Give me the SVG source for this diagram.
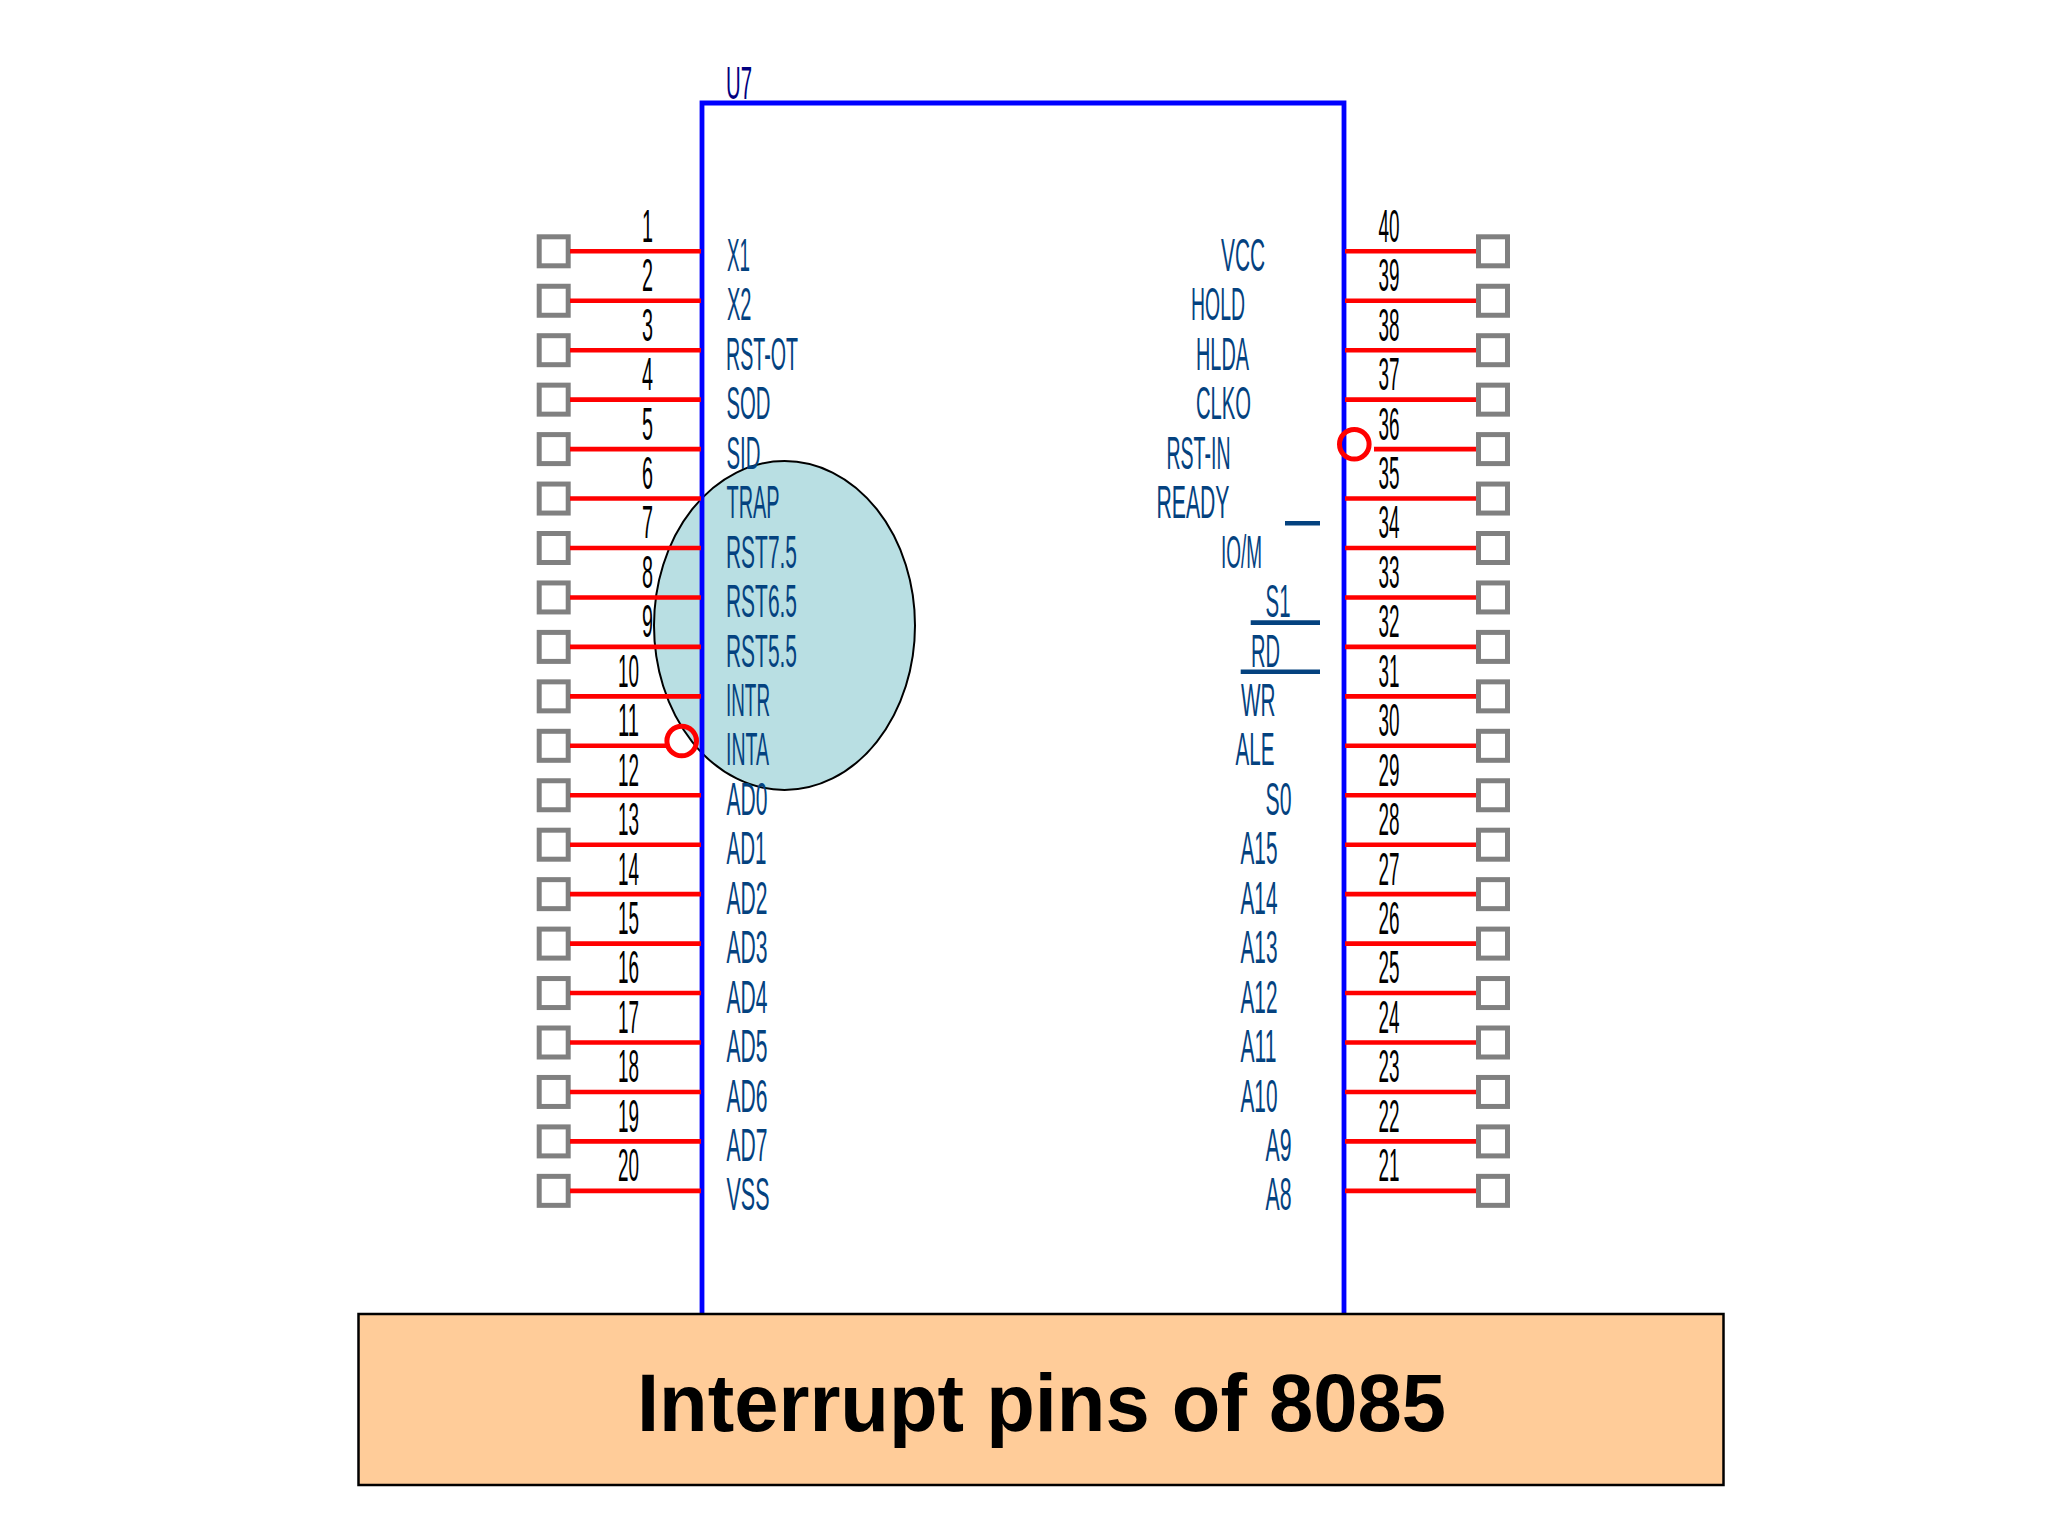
<svg xmlns="http://www.w3.org/2000/svg" width="2048" height="1536" viewBox="0 0 2048 1536">
<style>
text{font-family:"Liberation Sans",Arial,sans-serif;font-size:45.5px}
.pad{fill:#fff;stroke:#808080;stroke-width:5}
.n{fill:#000}
.l{fill:#04427f}
.wire{stroke:#f00;stroke-width:4.6;fill:none}
.bar{stroke:#04427f;stroke-width:4.6;fill:none}
.mark{stroke:#f00;stroke-width:5;fill:none}
</style>
<rect width="2048" height="1536" fill="#fff"/>
<g id="highlight"><ellipse cx="784.5" cy="625.5" rx="130.5" ry="164.5" fill="#b9dfe3" stroke="#000" stroke-width="2"/></g>
<g id="chip">
<path d="M702 1313V103H1344V1313" fill="none" stroke="#00f" stroke-width="4.8"/>
<text x="726" y="98.5" textLength="26" lengthAdjust="spacingAndGlyphs" fill="#000080">U7</text>
</g>
<g id="pin-1" transform="translate(0,251.3)"><rect class="pad" x="539.2" y="-14.5" width="29" height="29"/><text class="n" x="642" y="-9.6" textLength="11" lengthAdjust="spacingAndGlyphs">1</text><text class="l" x="727" y="19.6" textLength="23" lengthAdjust="spacingAndGlyphs">X1</text></g>
<g id="pin-2" transform="translate(0,300.75)"><rect class="pad" x="539.2" y="-14.5" width="29" height="29"/><text class="n" x="642" y="-9.6" textLength="11" lengthAdjust="spacingAndGlyphs">2</text><text class="l" x="727" y="19.6" textLength="24.5" lengthAdjust="spacingAndGlyphs">X2</text></g>
<g id="pin-3" transform="translate(0,350.2)"><rect class="pad" x="539.2" y="-14.5" width="29" height="29"/><text class="n" x="642" y="-9.6" textLength="11" lengthAdjust="spacingAndGlyphs">3</text><text class="l" x="726" y="19.6" textLength="72" lengthAdjust="spacingAndGlyphs">RST-OT</text></g>
<g id="pin-4" transform="translate(0,399.65)"><rect class="pad" x="539.2" y="-14.5" width="29" height="29"/><text class="n" x="642" y="-9.6" textLength="11" lengthAdjust="spacingAndGlyphs">4</text><text class="l" x="726.5" y="19.6" textLength="44" lengthAdjust="spacingAndGlyphs">SOD</text></g>
<g id="pin-5" transform="translate(0,449.1)"><rect class="pad" x="539.2" y="-14.5" width="29" height="29"/><text class="n" x="642" y="-9.6" textLength="11" lengthAdjust="spacingAndGlyphs">5</text><text class="l" x="726.5" y="19.6" textLength="34" lengthAdjust="spacingAndGlyphs">SID</text></g>
<g id="pin-6" transform="translate(0,498.55)"><rect class="pad" x="539.2" y="-14.5" width="29" height="29"/><text class="n" x="642" y="-9.6" textLength="11" lengthAdjust="spacingAndGlyphs">6</text><text class="l" x="726.5" y="19.6" textLength="53" lengthAdjust="spacingAndGlyphs">TRAP</text></g>
<g id="pin-7" transform="translate(0,548)"><rect class="pad" x="539.2" y="-14.5" width="29" height="29"/><text class="n" x="642" y="-9.6" textLength="11" lengthAdjust="spacingAndGlyphs">7</text><text class="l" x="726" y="19.6" textLength="71" lengthAdjust="spacingAndGlyphs">RST7.5</text></g>
<g id="pin-8" transform="translate(0,597.45)"><rect class="pad" x="539.2" y="-14.5" width="29" height="29"/><text class="n" x="642" y="-9.6" textLength="11" lengthAdjust="spacingAndGlyphs">8</text><text class="l" x="726" y="19.6" textLength="71" lengthAdjust="spacingAndGlyphs">RST6.5</text></g>
<g id="pin-9" transform="translate(0,646.9)"><rect class="pad" x="539.2" y="-14.5" width="29" height="29"/><text class="n" x="642" y="-9.6" textLength="11" lengthAdjust="spacingAndGlyphs">9</text><text class="l" x="726" y="19.6" textLength="71" lengthAdjust="spacingAndGlyphs">RST5.5</text></g>
<g id="pin-10" transform="translate(0,696.35)"><rect class="pad" x="539.2" y="-14.5" width="29" height="29"/><text class="n" x="618" y="-9.6" textLength="21" lengthAdjust="spacingAndGlyphs">10</text><text class="l" x="726" y="19.6" textLength="44" lengthAdjust="spacingAndGlyphs">INTR</text></g>
<g id="pin-11" transform="translate(0,745.8)"><rect class="pad" x="539.2" y="-14.5" width="29" height="29"/><text class="n" x="618" y="-9.6" textLength="21" lengthAdjust="spacingAndGlyphs">11</text><text class="l" x="726" y="19.6" textLength="43" lengthAdjust="spacingAndGlyphs">INTA</text></g>
<g id="pin-12" transform="translate(0,795.25)"><rect class="pad" x="539.2" y="-14.5" width="29" height="29"/><text class="n" x="618" y="-9.6" textLength="21" lengthAdjust="spacingAndGlyphs">12</text><text class="l" x="726.5" y="19.6" textLength="41" lengthAdjust="spacingAndGlyphs">AD0</text></g>
<g id="pin-13" transform="translate(0,844.7)"><rect class="pad" x="539.2" y="-14.5" width="29" height="29"/><text class="n" x="618" y="-9.6" textLength="21" lengthAdjust="spacingAndGlyphs">13</text><text class="l" x="726.5" y="19.6" textLength="40" lengthAdjust="spacingAndGlyphs">AD1</text></g>
<g id="pin-14" transform="translate(0,894.15)"><rect class="pad" x="539.2" y="-14.5" width="29" height="29"/><text class="n" x="618" y="-9.6" textLength="21" lengthAdjust="spacingAndGlyphs">14</text><text class="l" x="726.5" y="19.6" textLength="41" lengthAdjust="spacingAndGlyphs">AD2</text></g>
<g id="pin-15" transform="translate(0,943.6)"><rect class="pad" x="539.2" y="-14.5" width="29" height="29"/><text class="n" x="618" y="-9.6" textLength="21" lengthAdjust="spacingAndGlyphs">15</text><text class="l" x="726.5" y="19.6" textLength="41" lengthAdjust="spacingAndGlyphs">AD3</text></g>
<g id="pin-16" transform="translate(0,993.05)"><rect class="pad" x="539.2" y="-14.5" width="29" height="29"/><text class="n" x="618" y="-9.6" textLength="21" lengthAdjust="spacingAndGlyphs">16</text><text class="l" x="726.5" y="19.6" textLength="41" lengthAdjust="spacingAndGlyphs">AD4</text></g>
<g id="pin-17" transform="translate(0,1042.5)"><rect class="pad" x="539.2" y="-14.5" width="29" height="29"/><text class="n" x="618" y="-9.6" textLength="21" lengthAdjust="spacingAndGlyphs">17</text><text class="l" x="726.5" y="19.6" textLength="41" lengthAdjust="spacingAndGlyphs">AD5</text></g>
<g id="pin-18" transform="translate(0,1091.95)"><rect class="pad" x="539.2" y="-14.5" width="29" height="29"/><text class="n" x="618" y="-9.6" textLength="21" lengthAdjust="spacingAndGlyphs">18</text><text class="l" x="726.5" y="19.6" textLength="41" lengthAdjust="spacingAndGlyphs">AD6</text></g>
<g id="pin-19" transform="translate(0,1141.4)"><rect class="pad" x="539.2" y="-14.5" width="29" height="29"/><text class="n" x="618" y="-9.6" textLength="21" lengthAdjust="spacingAndGlyphs">19</text><text class="l" x="726.5" y="19.6" textLength="41" lengthAdjust="spacingAndGlyphs">AD7</text></g>
<g id="pin-20" transform="translate(0,1190.85)"><rect class="pad" x="539.2" y="-14.5" width="29" height="29"/><text class="n" x="618" y="-9.6" textLength="21" lengthAdjust="spacingAndGlyphs">20</text><text class="l" x="726.5" y="19.6" textLength="43" lengthAdjust="spacingAndGlyphs">VSS</text></g>
<g id="pin-40" transform="translate(0,251.3)"><rect class="pad" x="1478.5" y="-14.5" width="29" height="29"/><text class="n" x="1378.5" y="-9.6" textLength="21" lengthAdjust="spacingAndGlyphs">40</text><text class="l" x="1221" y="19.6" textLength="44" lengthAdjust="spacingAndGlyphs">VCC</text></g>
<g id="pin-39" transform="translate(0,300.75)"><rect class="pad" x="1478.5" y="-14.5" width="29" height="29"/><text class="n" x="1378.5" y="-9.6" textLength="21" lengthAdjust="spacingAndGlyphs">39</text><text class="l" x="1191" y="19.6" textLength="54" lengthAdjust="spacingAndGlyphs">HOLD</text></g>
<g id="pin-38" transform="translate(0,350.2)"><rect class="pad" x="1478.5" y="-14.5" width="29" height="29"/><text class="n" x="1378.5" y="-9.6" textLength="21" lengthAdjust="spacingAndGlyphs">38</text><text class="l" x="1196" y="19.6" textLength="53" lengthAdjust="spacingAndGlyphs">HLDA</text></g>
<g id="pin-37" transform="translate(0,399.65)"><rect class="pad" x="1478.5" y="-14.5" width="29" height="29"/><text class="n" x="1378.5" y="-9.6" textLength="21" lengthAdjust="spacingAndGlyphs">37</text><text class="l" x="1196" y="19.6" textLength="55" lengthAdjust="spacingAndGlyphs">CLKO</text></g>
<g id="pin-36" transform="translate(0,449.1)"><rect class="pad" x="1478.5" y="-14.5" width="29" height="29"/><text class="n" x="1378.5" y="-9.6" textLength="21" lengthAdjust="spacingAndGlyphs">36</text><text class="l" x="1166.5" y="19.6" textLength="64" lengthAdjust="spacingAndGlyphs">RST-IN</text></g>
<g id="pin-35" transform="translate(0,498.55)"><rect class="pad" x="1478.5" y="-14.5" width="29" height="29"/><text class="n" x="1378.5" y="-9.6" textLength="21" lengthAdjust="spacingAndGlyphs">35</text><text class="l" x="1156.5" y="19.6" textLength="73" lengthAdjust="spacingAndGlyphs">READY</text></g>
<g id="pin-34" transform="translate(0,548)"><rect class="pad" x="1478.5" y="-14.5" width="29" height="29"/><text class="n" x="1378.5" y="-9.6" textLength="21" lengthAdjust="spacingAndGlyphs">34</text><text class="l" x="1221" y="19.6" textLength="41" lengthAdjust="spacingAndGlyphs">IO/M</text><path class="bar" d="M1285 -24.7H1320"/></g>
<g id="pin-33" transform="translate(0,597.45)"><rect class="pad" x="1478.5" y="-14.5" width="29" height="29"/><text class="n" x="1378.5" y="-9.6" textLength="21" lengthAdjust="spacingAndGlyphs">33</text><text class="l" x="1265.5" y="19.6" textLength="25" lengthAdjust="spacingAndGlyphs">S1</text><path class="bar" d="M1250.7 25.2H1320"/></g>
<g id="pin-32" transform="translate(0,646.9)"><rect class="pad" x="1478.5" y="-14.5" width="29" height="29"/><text class="n" x="1378.5" y="-9.6" textLength="21" lengthAdjust="spacingAndGlyphs">32</text><text class="l" x="1251" y="19.6" textLength="29" lengthAdjust="spacingAndGlyphs">RD</text><path class="bar" d="M1240.7 24.8H1320"/></g>
<g id="pin-31" transform="translate(0,696.35)"><rect class="pad" x="1478.5" y="-14.5" width="29" height="29"/><text class="n" x="1378.5" y="-9.6" textLength="21" lengthAdjust="spacingAndGlyphs">31</text><text class="l" x="1241" y="19.6" textLength="34.5" lengthAdjust="spacingAndGlyphs">WR</text></g>
<g id="pin-30" transform="translate(0,745.8)"><rect class="pad" x="1478.5" y="-14.5" width="29" height="29"/><text class="n" x="1378.5" y="-9.6" textLength="21" lengthAdjust="spacingAndGlyphs">30</text><text class="l" x="1235.5" y="19.6" textLength="39" lengthAdjust="spacingAndGlyphs">ALE</text></g>
<g id="pin-29" transform="translate(0,795.25)"><rect class="pad" x="1478.5" y="-14.5" width="29" height="29"/><text class="n" x="1378.5" y="-9.6" textLength="21" lengthAdjust="spacingAndGlyphs">29</text><text class="l" x="1265.5" y="19.6" textLength="26" lengthAdjust="spacingAndGlyphs">S0</text></g>
<g id="pin-28" transform="translate(0,844.7)"><rect class="pad" x="1478.5" y="-14.5" width="29" height="29"/><text class="n" x="1378.5" y="-9.6" textLength="21" lengthAdjust="spacingAndGlyphs">28</text><text class="l" x="1240.5" y="19.6" textLength="37" lengthAdjust="spacingAndGlyphs">A15</text></g>
<g id="pin-27" transform="translate(0,894.15)"><rect class="pad" x="1478.5" y="-14.5" width="29" height="29"/><text class="n" x="1378.5" y="-9.6" textLength="21" lengthAdjust="spacingAndGlyphs">27</text><text class="l" x="1240.5" y="19.6" textLength="37" lengthAdjust="spacingAndGlyphs">A14</text></g>
<g id="pin-26" transform="translate(0,943.6)"><rect class="pad" x="1478.5" y="-14.5" width="29" height="29"/><text class="n" x="1378.5" y="-9.6" textLength="21" lengthAdjust="spacingAndGlyphs">26</text><text class="l" x="1240.5" y="19.6" textLength="37" lengthAdjust="spacingAndGlyphs">A13</text></g>
<g id="pin-25" transform="translate(0,993.05)"><rect class="pad" x="1478.5" y="-14.5" width="29" height="29"/><text class="n" x="1378.5" y="-9.6" textLength="21" lengthAdjust="spacingAndGlyphs">25</text><text class="l" x="1240.5" y="19.6" textLength="37" lengthAdjust="spacingAndGlyphs">A12</text></g>
<g id="pin-24" transform="translate(0,1042.5)"><rect class="pad" x="1478.5" y="-14.5" width="29" height="29"/><text class="n" x="1378.5" y="-9.6" textLength="21" lengthAdjust="spacingAndGlyphs">24</text><text class="l" x="1240.5" y="19.6" textLength="36" lengthAdjust="spacingAndGlyphs">A11</text></g>
<g id="pin-23" transform="translate(0,1091.95)"><rect class="pad" x="1478.5" y="-14.5" width="29" height="29"/><text class="n" x="1378.5" y="-9.6" textLength="21" lengthAdjust="spacingAndGlyphs">23</text><text class="l" x="1240.5" y="19.6" textLength="37" lengthAdjust="spacingAndGlyphs">A10</text></g>
<g id="pin-22" transform="translate(0,1141.4)"><rect class="pad" x="1478.5" y="-14.5" width="29" height="29"/><text class="n" x="1378.5" y="-9.6" textLength="21" lengthAdjust="spacingAndGlyphs">22</text><text class="l" x="1265.5" y="19.6" textLength="26" lengthAdjust="spacingAndGlyphs">A9</text></g>
<g id="pin-21" transform="translate(0,1190.85)"><rect class="pad" x="1478.5" y="-14.5" width="29" height="29"/><text class="n" x="1378.5" y="-9.6" textLength="21" lengthAdjust="spacingAndGlyphs">21</text><text class="l" x="1265.5" y="19.6" textLength="26" lengthAdjust="spacingAndGlyphs">A8</text></g>
<g id="connectors">
<path class="wire" d="M570 251.3H701M570 300.75H701M570 350.2H701M570 399.65H701M570 449.1H701M570 498.55H701M570 548H701M570 597.45H701M570 646.9H701M570 696.35H701M570 745.8H666M570 795.25H701M570 844.7H701M570 894.15H701M570 943.6H701M570 993.05H701M570 1042.5H701M570 1091.95H701M570 1141.4H701M570 1190.85H701"/>
<path class="wire" d="M1345 251.3H1476M1345 300.75H1476M1345 350.2H1476M1345 399.65H1476M1374 449.1H1476M1345 498.55H1476M1345 548H1476M1345 597.45H1476M1345 646.9H1476M1345 696.35H1476M1345 745.8H1476M1345 795.25H1476M1345 844.7H1476M1345 894.15H1476M1345 943.6H1476M1345 993.05H1476M1345 1042.5H1476M1345 1091.95H1476M1345 1141.4H1476M1345 1190.85H1476"/>
</g>
<g id="active-low-marks">
<circle class="mark" cx="681.7" cy="741" r="14.8"/>
<circle class="mark" cx="1354.3" cy="444.3" r="14.8"/>
</g>
<g id="caption">
<rect x="358.5" y="1314" width="1365" height="171" fill="#ffcc99" stroke="#000" stroke-width="2.5"/>
<text x="637" y="1431" textLength="809" lengthAdjust="spacingAndGlyphs" style="font-size:81px;font-weight:700" fill="#000">Interrupt pins of 8085</text>
</g>
</svg>
